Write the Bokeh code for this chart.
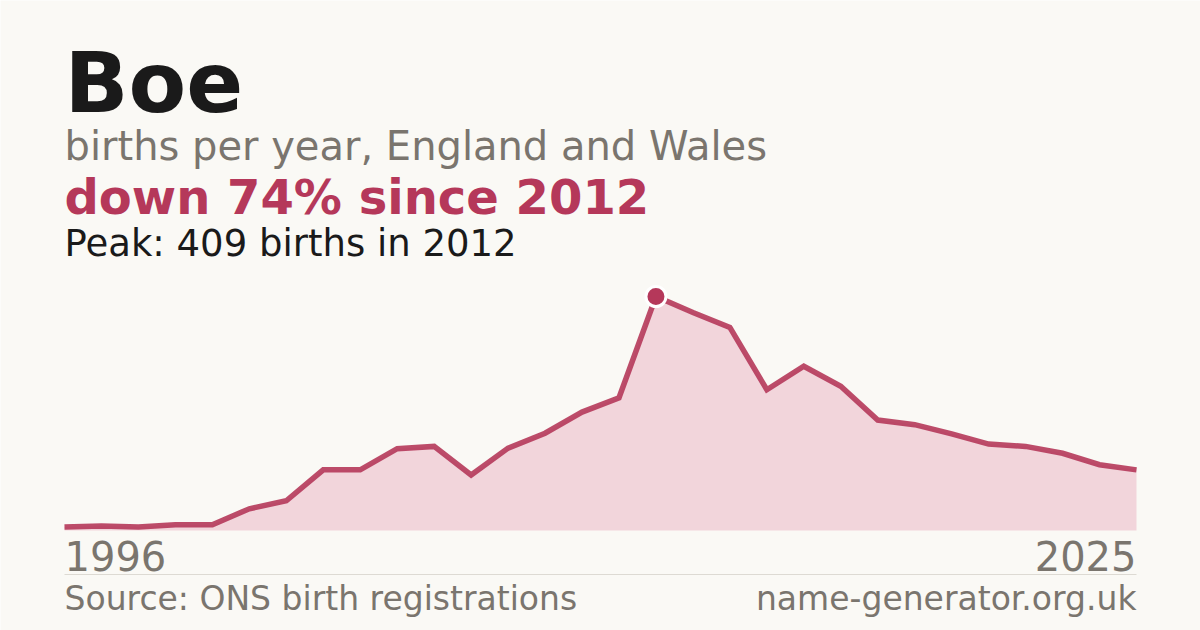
from bokeh.plotting import figure
from bokeh.models import Range1d, Label, ColumnDataSource
from bokeh.embed import file_html
from bokeh.resources import INLINE

# ---- data ----
years = list(range(1996, 2026))
births = [6, 8, 6, 10, 10, 38, 52, 106, 106, 143, 147, 97, 144, 170, 207, 232,
          409, 381, 355, 246, 287, 252, 193, 185, 169, 151, 147, 135, 115, 106]
peak_year = 2012
peak_value = 409

title_text = "Boe"
subtitle_text = "births per year, England and Wales"
change_text = "down 74% since 2012"
peak_text = "Peak: 409 births in 2012"
start_label = "1996"
end_label = "2025"
source_text = "Source: ONS birth registrations"
site_text = "name-generator.org.uk"

# ---- style ----
BG = "#FAF9F5"
DARK = "#1A1A1A"
GREY = "#7A756E"
CRIMSON = "#B5385A"
FILL = "#F2D5DB"
FONT = "DejaVu Sans"

W, H = 1200, 630
OFF = 0
CX0, CX1 = 64, 1136
CY_BASE, CY_PEAK = 530, 296

px_per_year = (CX1 - CX0) / (years[-1] - years[0])
units_per_px = peak_value / (CY_BASE - CY_PEAK)
x_start = years[0] - (CX0 - OFF) / px_per_year
x_end = years[-1] + (OFF + W - CX1) / px_per_year
y_top = (CY_BASE - OFF) * units_per_px
y_bot = -(OFF + H - CY_BASE) * units_per_px

p = figure(width=W, height=H, output_backend="svg", toolbar_location=None,
           x_range=Range1d(x_start, x_end), y_range=Range1d(y_bot, y_top),
           min_border=0)
p.background_fill_color = BG
p.border_fill_color = BG
p.outline_line_color = None
p.axis.visible = False
p.grid.visible = False

src = ColumnDataSource(dict(x=years, y=births, y0=[0] * len(years)))
p.varea(x="x", y1="y0", y2="y", source=src, fill_color=FILL, fill_alpha=1.0)
p.line(x="x", y="y", source=src, line_color=CRIMSON, line_width=5.5,
       line_alpha=0.9, line_join="miter")
p.scatter([peak_year], [peak_value], size=20, marker="circle",
          fill_color=CRIMSON, line_color="white", line_width=3)

BASE_SHIFT = 0.35  # em, correction so that the glyph baseline lands on page_y


def lab(text, page_x, page_y, size, color, bold=False, align="left"):
    p.add_layout(Label(x=page_x - OFF, y=OFF + H - page_y + BASE_SHIFT * size,
                       x_units="screen", y_units="screen", text=text,
                       text_font=FONT, text_font_size=f"{size}px",
                       text_color=color, text_align=align,
                       text_baseline="alphabetic",
                       text_font_style="bold" if bold else "normal"))


lab(title_text, 64, 112, 84, DARK, bold=True)
lab(subtitle_text, 64, 159, 40, GREY)
lab(change_text, 64, 213, 48, CRIMSON, bold=True)
lab(peak_text, 64, 256, 37, DARK)
lab(start_label, 64, 569, 40, GREY)
lab(end_label, 1136, 569, 40, GREY, align="right")
lab(source_text, 64, 610, 33, GREY)
lab(site_text, 1136, 610, 33, GREY, align="right")

rule_y = -(574 - CY_BASE) * units_per_px
p.segment(x0=[years[0]], y0=[rule_y], x1=[years[-1]], y1=[rule_y],
          line_color="#DDDAD3", line_width=1)

open("out.html", "w").write(file_html(p, INLINE))
